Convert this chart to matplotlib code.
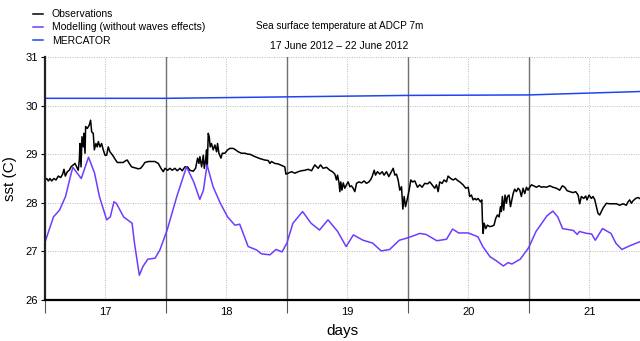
import matplotlib
matplotlib.use("Agg")
from matplotlib import pyplot as plt
from matplotlib.ticker import FixedLocator
import numpy as np

plt.rcParams["font.family"] = ["Liberation Sans", "DejaVu Sans"]

# observations (black), days / degC
obs_days = [
    16.500, 16.514, 16.528, 16.541, 16.555, 16.574, 16.591, 16.610, 16.630, 16.646,
    16.657, 16.668, 16.685, 16.701, 16.715, 16.734, 16.748, 16.762, 16.775, 16.784,
    16.789, 16.798, 16.806, 16.817, 16.822, 16.831, 16.836, 16.850, 16.866, 16.877,
    16.886, 16.899, 16.908, 16.921, 16.932, 16.941, 16.955, 16.968, 16.982, 16.996,
    17.010, 17.023, 17.037, 17.059, 17.079, 17.098, 17.120, 17.147, 17.169, 17.180,
    17.197, 17.216, 17.244, 17.271, 17.291, 17.313,
    17.326, 17.354, 17.409, 17.437, 17.459, 17.478, 17.492, 17.514, 17.533, 17.552,
    17.574, 17.594, 17.616, 17.635, 17.657, 17.679, 17.698, 17.726, 17.745, 17.762,
    17.773, 17.781, 17.795, 17.809, 17.817, 17.828, 17.836, 17.842, 17.850, 17.858,
    17.866, 17.877, 17.891, 17.905, 17.919, 17.927, 17.938, 17.955, 17.966, 17.988,
    18.010, 18.029, 18.056, 18.076, 18.098, 18.125, 18.153, 18.180,
    18.194, 18.236, 18.277, 18.318, 18.346, 18.360, 18.373, 18.401, 18.428, 18.456,
    18.483, 18.492, 18.511, 18.539, 18.566, 18.594, 18.621, 18.649, 18.676, 18.704,
    18.731, 18.759, 18.778, 18.800, 18.828, 18.855, 18.877, 18.897, 18.910, 18.919,
    18.932, 18.938, 18.946, 18.955, 18.966, 18.979, 18.993, 19.007, 19.021, 19.034,
    19.048,
    19.062, 19.076, 19.095, 19.117, 19.139, 19.158, 19.178, 19.194, 19.205, 19.222,
    19.233, 19.249, 19.269, 19.288, 19.304, 19.324, 19.343, 19.360, 19.379, 19.393,
    19.406, 19.420, 19.434, 19.448, 19.459, 19.470, 19.481, 19.497, 19.511, 19.525,
    19.539, 19.558, 19.580, 19.599, 19.618, 19.640, 19.663, 19.682, 19.701, 19.723,
    19.737, 19.751, 19.764, 19.784, 19.800, 19.820, 19.833, 19.855, 19.875, 19.894,
    19.916,
    19.930, 19.957, 19.979, 19.999, 20.012, 20.026, 20.040, 20.054, 20.067, 20.081,
    20.101, 20.112, 20.117, 20.123, 20.131, 20.145, 20.158, 20.178, 20.197, 20.213,
    20.227, 20.241, 20.255, 20.266, 20.274, 20.282, 20.293, 20.304, 20.315, 20.324,
    20.337, 20.349, 20.360, 20.371, 20.384, 20.398, 20.412, 20.426, 20.439, 20.453,
    20.467, 20.481, 20.494, 20.508, 20.522, 20.541, 20.563, 20.585, 20.605, 20.624,
    20.646, 20.674, 20.701, 20.729,
    20.756, 20.778, 20.798, 20.817, 20.839, 20.866, 20.888, 20.908, 20.921, 20.935,
    20.955, 20.971, 20.982, 20.999, 21.018, 21.032, 21.045, 21.059, 21.073, 21.087,
    21.101, 21.114, 21.142, 21.169, 21.197, 21.225, 21.252, 21.280, 21.307, 21.321,
    21.335, 21.349, 21.362, 21.384, 21.404, 21.417,
]
obs_sst = [
    28.47, 28.50, 28.45, 28.50, 28.45, 28.50, 28.47, 28.55, 28.52, 28.59,
    28.69, 28.55, 28.64, 28.67, 28.74, 28.78, 28.81, 28.74, 28.67, 28.88,
    29.22, 28.74, 29.36, 29.15, 29.43, 29.02, 29.57, 29.53, 29.60, 29.70,
    29.46, 29.43, 29.09, 29.22, 29.15, 29.26, 29.15, 29.22, 29.09, 28.98,
    28.98, 29.15, 29.05, 28.98, 28.90, 28.83, 28.83, 28.83, 28.87, 28.88,
    28.81, 28.74, 28.72, 28.70, 28.71, 28.78,
    28.83, 28.85, 28.85, 28.81, 28.71, 28.64, 28.71, 28.67, 28.71, 28.67,
    28.71, 28.66, 28.71, 28.66, 28.74, 28.74, 28.67, 28.65, 28.71, 28.92,
    28.81, 28.95, 28.74, 28.98, 28.71, 28.88, 29.09, 28.74, 29.43, 29.36,
    29.15, 29.22, 29.09, 29.19, 29.05, 29.22, 29.02, 28.92, 29.02, 29.02,
    29.09, 29.12, 29.12, 29.09, 29.05, 29.02, 29.02, 29.00,
    29.00, 28.95, 28.91, 28.88, 28.87, 28.81, 28.85, 28.81, 28.80, 28.77,
    28.74, 28.59, 28.61, 28.64, 28.61, 28.64, 28.66, 28.67, 28.69, 28.66,
    28.78, 28.71, 28.78, 28.71, 28.73, 28.67, 28.64, 28.59, 28.47, 28.57,
    28.40, 28.23, 28.43, 28.26, 28.41, 28.30, 28.37, 28.43, 28.33, 28.35,
    28.30,
    28.23, 28.40, 28.43, 28.41, 28.45, 28.40, 28.43, 28.48, 28.54, 28.67,
    28.57, 28.64, 28.59, 28.64, 28.57, 28.64, 28.54, 28.62, 28.71, 28.57,
    28.59, 28.47, 28.26, 28.33, 27.87, 28.13, 27.92, 28.09, 28.26, 28.47,
    28.43, 28.45, 28.32, 28.37, 28.32, 28.40, 28.39, 28.43, 28.37, 28.30,
    28.37, 28.23, 28.43, 28.40, 28.47, 28.43, 28.55, 28.50, 28.47, 28.50,
    28.45,
    28.43, 28.37, 28.30, 28.32, 28.13, 28.16, 28.06, 28.09, 28.06, 28.09,
    28.02, 28.06, 27.65, 27.37, 27.58, 27.47, 27.54, 27.51, 27.52, 27.54,
    27.68, 27.75, 27.71, 27.92, 27.82, 28.13, 27.85, 28.16, 27.99, 28.13,
    28.16, 27.92, 28.06, 28.19, 28.28, 28.23, 28.30, 28.26, 28.13, 28.30,
    28.19, 28.32, 28.26, 28.32, 28.37, 28.35, 28.32, 28.35, 28.32, 28.33,
    28.32, 28.35, 28.32, 28.30,
    28.26, 28.35, 28.32, 28.25, 28.23, 28.21, 28.23, 28.16, 27.98, 28.13,
    28.09, 28.14, 28.06, 28.16, 28.09, 28.13, 28.07, 27.92, 27.78, 27.75,
    27.82, 27.89, 27.99, 27.98, 27.98, 27.98, 27.95, 27.98, 27.95, 28.02,
    28.06, 27.99, 28.04, 28.09, 28.11, 28.09,
]

# modelling without waves effects (purple)
mod_days = [
    16.50, 16.57, 16.62, 16.67, 16.71, 16.73, 16.80, 16.86, 16.91, 16.95,
    17.01, 17.04, 17.07, 17.09, 17.15, 17.22, 17.24, 17.28, 17.31, 17.35,
    17.41, 17.45, 17.51, 17.59, 17.67, 17.73, 17.78, 17.81, 17.84, 17.89,
    17.95, 18.01, 18.07, 18.11, 18.18, 18.25, 18.29, 18.36, 18.41, 18.46,
    18.50, 18.55, 18.63, 18.70, 18.77, 18.84, 18.92, 18.99, 19.05, 19.13,
    19.21, 19.28, 19.35, 19.43, 19.50, 19.60, 19.65, 19.74, 19.82, 19.87,
    19.92, 20.00, 20.08, 20.12, 20.18, 20.23, 20.29, 20.33, 20.36, 20.43,
    20.50, 20.56, 20.65, 20.70, 20.74, 20.78, 20.87, 20.90, 20.92, 20.98,
    21.02, 21.05, 21.11, 21.18, 21.22, 21.27, 21.33, 21.42,
]
mod_sst = [
    27.19, 27.71, 27.85, 28.13, 28.54, 28.73, 28.50, 28.94, 28.61, 28.13,
    27.65, 27.71, 28.02, 27.99, 27.71, 27.58, 27.17, 26.51, 26.69, 26.84,
    26.86, 27.03, 27.44, 28.13, 28.74, 28.43, 28.07, 28.26, 28.78, 28.33,
    27.99, 27.71, 27.54, 27.56, 27.10, 27.03, 26.95, 26.93, 27.04, 26.99,
    27.17, 27.58, 27.82, 27.58, 27.44, 27.65, 27.41, 27.10, 27.34, 27.23,
    27.17, 27.01, 27.04, 27.23, 27.28, 27.37, 27.35, 27.22, 27.25, 27.46,
    27.38, 27.38, 27.30, 27.10, 26.89, 26.81, 26.70, 26.77, 26.74, 26.84,
    27.08, 27.41, 27.73, 27.83, 27.71, 27.47, 27.43, 27.35, 27.41, 27.37,
    27.36, 27.23, 27.47, 27.37, 27.17, 27.04, 27.11, 27.20,
]

# MERCATOR (blue)
mer_days = [16.5, 17.5, 18.5, 19.5, 20.5, 21.42]
mer_sst = [30.15, 30.15, 30.18, 30.21, 30.22, 30.29]

day_labels = [17, 18, 19, 20, 21]

fig = plt.figure(figsize=(6.4, 3.41), dpi=100)
ax = fig.add_axes([0.0703, 0.1202, 0.9297, 0.7126])

l1, = ax.plot(obs_days, obs_sst, color="black", lw=1.1, label="Observations")
l2, = ax.plot(mod_days, mod_sst, color="#6e3cff", lw=1.1, label="Modelling (without waves effects)")
l3, = ax.plot(mer_days, mer_sst, color="#1f45f0", lw=1.1, label="MERCATOR")

ax.set_xlim(16.5, 21.42)
ax.set_ylim(26, 31)

# grid: dotted at integer days and degrees, solid at half days
for y in range(26, 32):
    ax.axhline(y, color="#b8b8b8", lw=0.7, ls=(0, (1, 1.5)), zorder=0)
for d in day_labels:
    ax.axvline(d, color="#b8b8b8", lw=0.7, ls=(0, (1, 1.5)), zorder=0)
for d in [17.5, 18.5, 19.5, 20.5]:
    ax.axvline(d, color="#707070", lw=1.0, zorder=0)

ax.xaxis.set_major_locator(FixedLocator([16.5, 17.5, 18.5, 19.5, 20.5]))
ax.xaxis.set_minor_locator(FixedLocator(day_labels))
ax.set_xticklabels([])
ax.set_xticklabels([str(d) for d in day_labels], minor=True)
ax.tick_params(axis="x", which="major", length=9, width=0.8, color="#555555")
ax.tick_params(axis="x", which="minor", length=0, pad=5, labelsize=8)
ax.set_yticks(range(26, 32))
ax.tick_params(axis="y", length=3, width=0.8, labelsize=8, pad=2)

for s in ["top", "right"]:
    ax.spines[s].set_visible(False)
ax.spines["left"].set_linewidth(1.6)
ax.spines["left"].set_color("#222222")
ax.spines["bottom"].set_linewidth(1.6)

ax.set_ylabel("sst (C)", fontsize=11, labelpad=6)
ax.set_xlabel("days", fontsize=11, labelpad=5)

fig.text(0.53, 0.923, "Sea surface temperature at ADCP 7m", ha="center", va="center", fontsize=7.2)
fig.text(0.53, 0.866, "17 June 2012 \u2013 22 June 2012", ha="center", va="center", fontsize=7.5)

fig.legend(handles=[l1, l2, l3], loc="upper left", bbox_to_anchor=(0.045, 0.985),
           frameon=False, fontsize=7.5, handlelength=1.0, handletextpad=0.8,
           labelspacing=0.3, borderaxespad=0)

fig.savefig("out.png", dpi=100)
